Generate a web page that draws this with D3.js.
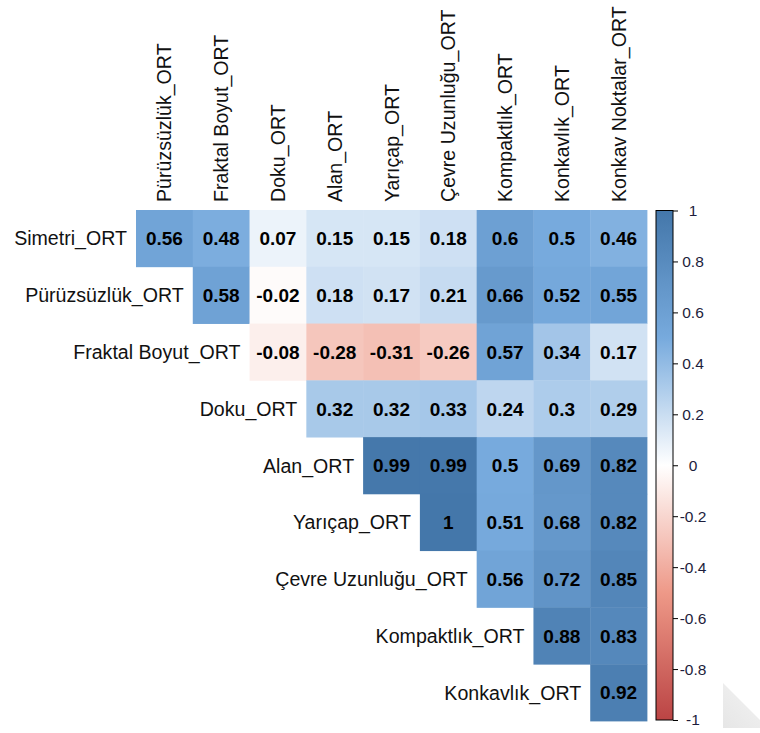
<!DOCTYPE html>
<html>
<head>
<meta charset="utf-8">
<script src="https://cdn.jsdelivr.net/npm/d3@7"></script>
<style>
  html, body { margin: 0; padding: 0; background: #fff; }
  svg { display: block; font-family: "Liberation Sans", Arial, sans-serif; }
</style>
</head>
<body>
<svg id="chart" width="760" height="733"></svg>
<script>
// Row variables (left labels) and column variables (top labels)
const rowVars = ["Simetri_ORT", "Pürüzsüzlük_ORT", "Fraktal Boyut_ORT", "Doku_ORT",
  "Alan_ORT", "Yarıçap_ORT", "Çevre Uzunluğu_ORT", "Kompaktlık_ORT", "Konkavlık_ORT"];
const colVars = ["Pürüzsüzlük_ORT", "Fraktal Boyut_ORT", "Doku_ORT", "Alan_ORT",
  "Yarıçap_ORT", "Çevre Uzunluğu_ORT", "Kompaktlık_ORT", "Konkavlık_ORT", "Konkav Noktalar_ORT"];

// Upper-triangle correlations; row i starts at column i
const corrSimetri     = [0.56, 0.48, 0.07, 0.15, 0.15, 0.18, 0.6, 0.5, 0.46];
const corrPuruzsuzluk = [0.58, -0.02, 0.18, 0.17, 0.21, 0.66, 0.52, 0.55];
const corrFraktal     = [-0.08, -0.28, -0.31, -0.26, 0.57, 0.34, 0.17];
const corrDoku        = [0.32, 0.32, 0.33, 0.24, 0.3, 0.29];
const corrAlan        = [0.99, 0.99, 0.5, 0.69, 0.82];
const corrYaricap     = [1, 0.51, 0.68, 0.82];
const corrCevre       = [0.56, 0.72, 0.85];
const corrKompaktlik  = [0.88, 0.83];
const corrKonkavlik   = [0.92];
const corrRows = [corrSimetri, corrPuruzsuzluk, corrFraktal, corrDoku, corrAlan,
  corrYaricap, corrCevre, corrKompaktlik, corrKonkavlik];

// Colour legend ticks
const legendTicks = [-1, -0.8, -0.6, -0.4, -0.2, 0, 0.2, 0.4, 0.6, 0.8, 1];

const cells = [];
corrRows.forEach((vals, i) => {
  vals.forEach((v, k) => {
    cells.push({ row: rowVars[i], col: colVars[i + k], value: v });
  });
});

const svg = d3.select("#chart");

const x = d3.scaleBand().domain(colVars).range([136, 647]);
const y = d3.scaleBand().domain(rowVars).range([210, 721]);

const color = d3.scaleLinear()
  .domain([-1, -0.5, 0, 0.5, 1])
  .range(["#BB4444", "#EE9988", "#FFFFFF", "#77AADD", "#4477AA"])
  .interpolate(d3.interpolateRgb);

// Cells
svg.append("g")
  .selectAll("rect")
  .data(cells)
  .join("rect")
  .attr("x", d => x(d.col))
  .attr("y", d => y(d.row))
  .attr("width", x.bandwidth() + 0.4)
  .attr("height", y.bandwidth() + 0.4)
  .attr("fill", d => color(d.value));

// Coefficient labels
const fmt = v => String(+v.toFixed(2));
svg.append("g")
  .selectAll("text")
  .data(cells)
  .join("text")
  .attr("x", d => x(d.col) + x.bandwidth() / 2)
  .attr("y", d => y(d.row) + y.bandwidth() / 2)
  .attr("dy", "0.36em")
  .attr("text-anchor", "middle")
  .attr("font-size", "19px")
  .attr("font-weight", "bold")
  .attr("fill", "#000")
  .text(d => fmt(d.value));

// Row labels, right-aligned against the first cell of each row
svg.append("g")
  .selectAll("text")
  .data(rowVars)
  .join("text")
  .attr("x", (d, i) => x(colVars[i]) - 9)
  .attr("y", d => y(d) + y.bandwidth() / 2)
  .attr("dy", "0.36em")
  .attr("text-anchor", "end")
  .attr("font-size", "19.6px")
  .attr("fill", "#111")
  .text(d => d);

// Column labels, rotated
svg.append("g")
  .selectAll("text")
  .data(colVars)
  .join("text")
  .attr("transform", d => `translate(${x(d) + x.bandwidth() / 2},202) rotate(-90)`)
  .attr("dy", "0.36em")
  .attr("text-anchor", "start")
  .attr("font-size", "19.6px")
  .attr("fill", "#111")
  .text(d => d);

// Colour legend
const legendY = d3.scaleLinear().domain([-1, 1]).range([720, 210.5]);
const defs = svg.append("defs");
const grad = defs.append("linearGradient")
  .attr("id", "legendGrad")
  .attr("x1", 0).attr("y1", 1).attr("x2", 0).attr("y2", 0);
d3.range(0, 1.0001, 0.05).forEach(t => {
  grad.append("stop")
    .attr("offset", t)
    .attr("stop-color", color(-1 + 2 * t));
});
svg.append("rect")
  .attr("x", 656)
  .attr("y", legendY(1))
  .attr("width", 17)
  .attr("height", legendY(-1) - legendY(1))
  .attr("fill", "url(#legendGrad)")
  .attr("stroke", "#000")
  .attr("stroke-width", 1);

const legendAxis = svg.append("g")
  .attr("transform", "translate(673,0)")
  .call(d3.axisRight(legendY).tickValues(legendTicks).tickSize(5).tickPadding(0)
    .tickFormat(d => String(+d.toFixed(1))));
legendAxis.select(".domain").remove();
legendAxis.selectAll(".tick line").attr("stroke", "#000");
legendAxis.selectAll(".tick text")
  .attr("x", 20)
  .attr("text-anchor", "middle")
  .attr("font-size", "15.5px")
  .attr("font-family", "Liberation Sans, Arial, sans-serif")
  .attr("fill", "#1d1d3c");

// Soft grey corner shape at lower right
const cornerGrad = defs.append("linearGradient")
  .attr("id", "cornerGrad")
  .attr("x1", 0).attr("y1", 1).attr("x2", 1).attr("y2", 0);
cornerGrad.append("stop").attr("offset", 0).attr("stop-color", "#e6e6e6");
cornerGrad.append("stop").attr("offset", 1).attr("stop-color", "#f4f4f4");
svg.append("path")
  .attr("d", "M723,683 L723,728 L768,728 Z")
  .attr("fill", "url(#cornerGrad)");
</script>
</body>
</html>
